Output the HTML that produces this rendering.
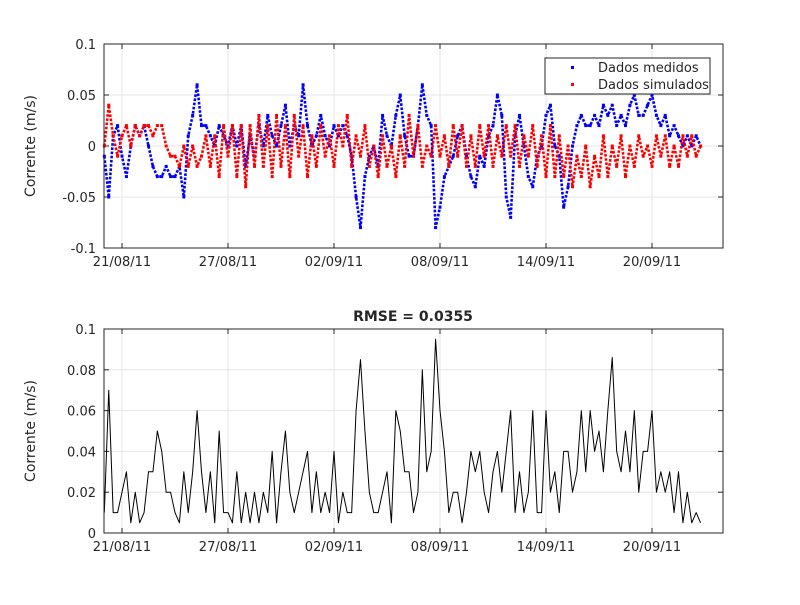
<!DOCTYPE html>
<html><head><meta charset="utf-8"><style>
body{margin:0;background:#fff;}
svg text{font-family:"DejaVu Sans","Liberation Sans",sans-serif;fill:#262626;}
</style></head><body>
<svg id="c" width="800" height="600" xmlns="http://www.w3.org/2000/svg"></svg>
<script>
const startDay = -1, stepDay = 0.25;
const tickDays = [0,6,12,18,24,30];
const tickLabels = ["21/08/11","27/08/11","02/09/11","08/09/11","14/09/11","20/09/11"];
const topYTicks = [0.1,0.05,0,-0.05,-0.1];
const topYLabels = ["0.1","0.05","0","-0.05","-0.1"];
const botYTicks = [0,0.02,0.04,0.06,0.08,0.1];
const botYLabels = ["0","0.02","0.04","0.06","0.08","0.1"];
const measured = [-1,-5,1,2,-1,-3,0,2,1,2,0,-2,-3,-3,-2,-3,-3,-2,-5,1,3,6,2,2,1,0,2,1,0,2,0,2,-2,1,-1,2,0,3,1,0,2,4,0,2,1,6,2,0,1,3,1,0,2,1,2,1,-1,-5,-8,-3,-1,0,-2,3,1,0,3,5,1,-1,-1,2,6,3,2,-8,-6,-3,-2,-1,1,2,-1,-3,-4,-1,-2,1,2,5,3,-5,-7,1,3,0,-3,-4,-1,0,3,4,0,-1,-6,-4,0,2,3,2,2,3,2,4,3,4,2,3,2,4,5,3,3,4,5,3,2,3,1,2,1,0,1,0,1,0].map(v=>v/100);
const simulated = [0,4,1,-1,1,2,0,2,1,2,2,1,2,2,0,-1,-1,-2,0,-2,0,-2,-1,1,-2,1,-3,2,-1,2,-3,2,-4,2,-2,3,-2,2,-3,3,-2,2,-3,3,-1,2,-3,1,-2,2,-1,1,-2,2,0,3,-2,1,-1,2,-2,0,-3,1,-2,0,-3,1,-2,3,-1,2,-2,0,-1,2,-1,1,-2,2,-1,2,-2,1,-2,2,-1,2,-2,1,-1,2,-1,2,-2,1,-1,2,-2,1,-3,2,-3,1,-3,0,-4,-1,-3,0,-4,-1,-3,1,-3,0,-2,1,-3,0,-2,1,-1,0,-2,1,-1,1,-2,0,-2,1,-1,1,-1,0].map(v=>v/100);
const errorVals = [1,7,1,1,2,3,0.5,2,0.5,1,3,3,5,4,2,2,1,0.5,3,1,3,6,3,1,3,0.5,5,1,1,0.5,3,0.5,2,0.5,2,0.5,2,1,4,0.5,3,5,2,1,2,3,4,1,3,1,2,1,4,0.5,2,1,1,6,8.5,5,2,1,1,2,3,0.5,6,5,3,3,1,2,8,3,4,9.5,6,4,1,2,2,0.5,2,4,3,4,2,1,3,4,2,4,6,1,3,1,2,6,1,1,6,2,3,1,4,4,2,3,6,3,6,4,5,3,6,8.6,4,3,5,3,6,2,4,4,6,2,3,2,3,1,3,0.5,2,0.5,1,0.5].map(v=>v/100);

const NS="http://www.w3.org/2000/svg";
const svg=document.getElementById('c');
function mk(tag,attrs,parent){const e=document.createElementNS(NS,tag);for(const k in attrs)e.setAttribute(k,attrs[k]);(parent||svg).appendChild(e);return e;}
const X0=104,X1=723;
function xDay(d){return 122+d*(546-122)/24;}
function axes(top,bot,ymin,ymax,ticks,labels,name){
  const y=v=>bot-(v-ymin)/(ymax-ymin)*(bot-top);
  const g=mk('g',{});
  
  
  mk('rect',{x:X0,y:top,width:X1-X0,height:bot-top,fill:'#fff'},g);
  tickDays.forEach((d,i)=>{const x=xDay(d);
    const l=mk('line',{x1:x,x2:x,y1:top,y2:bot,stroke:'#e6e6e6','stroke-width':1},g);
    
    mk('line',{x1:x,x2:x,y1:bot,y2:bot-5,stroke:'#262626'},g);
    mk('line',{x1:x,x2:x,y1:top,y2:top+5,stroke:'#262626'},g);
    const t=mk('text',{x:x,y:bot+18,'text-anchor':'middle','font-size':13},g);t.textContent=tickLabels[i];
    });
  ticks.forEach((v,i)=>{const yy=y(v);
    mk('line',{x1:X0,x2:X1,y1:yy,y2:yy,stroke:'#e6e6e6'},g);
    mk('line',{x1:X0,x2:X0+5,y1:yy,y2:yy,stroke:'#262626'},g);
    mk('line',{x1:X1,x2:X1-5,y1:yy,y2:yy,stroke:'#262626'},g);
    const t=mk('text',{x:X0-8,y:yy+5,'text-anchor':'end','font-size':13},g);t.textContent=labels[i];
    });
  const yl=mk('text',{x:0,y:0,'text-anchor':'middle','font-size':14,transform:`translate(35,${(top+bot)/2}) rotate(-90)`},g);
  yl.textContent='Corrente (m/s)';
  
  return {y,g};
}
function series(vals,yf,color,name,dots){
  const g=mk('g',{});
  
  
  const pts=vals.map((v,i)=>[xDay(startDay+i*stepDay),yf(v)]);
  mk('polyline',{points:pts.map(p=>p.join(',')).join(' '),fill:'none',stroke:color,'stroke-width':dots?2.6:1,'stroke-dasharray':dots?'2.6 1.6':'none','stroke-linejoin':'round'},g);
  if(dots)pts.forEach(p=>{const r=mk('rect',{x:p[0]-1.5,y:p[1]-1.5,width:3,height:3,fill:color},g);
    });
}
const A=axes(44,248,-0.1,0.1,topYTicks,topYLabels,'top-axes');
series(measured,A.y,'#0000ff','measured-series',true);
series(simulated,A.y,'#ff0000','simulated-series',true);
mk('rect',{x:X0,y:44,width:X1-X0,height:204,fill:'none',stroke:'#262626'});
const lg=mk('g',{});


mk('rect',{x:545,y:58,width:165,height:36,fill:'#fff',stroke:'#262626'},lg);
mk('rect',{x:571,y:66,width:3,height:3,fill:'#0000ff'},lg);
mk('rect',{x:571,y:83,width:3,height:3,fill:'#ff0000'},lg);
const l1=mk('text',{x:598,y:72,'font-size':13},lg);l1.textContent='Dados medidos';

const l2=mk('text',{x:598,y:89,'font-size':13},lg);l2.textContent='Dados simulados';


const B=axes(329,533,0,0.1,botYTicks,botYLabels,'bottom-axes');
series(errorVals,B.y,'#000000','error-series',false);
mk('rect',{x:X0,y:329,width:X1-X0,height:204,fill:'none',stroke:'#262626'});
const tt=mk('text',{x:413,y:321,'text-anchor':'middle','font-size':14,'font-weight':'bold'});
tt.textContent='RMSE = 0.0355';


</script>
</body></html>
